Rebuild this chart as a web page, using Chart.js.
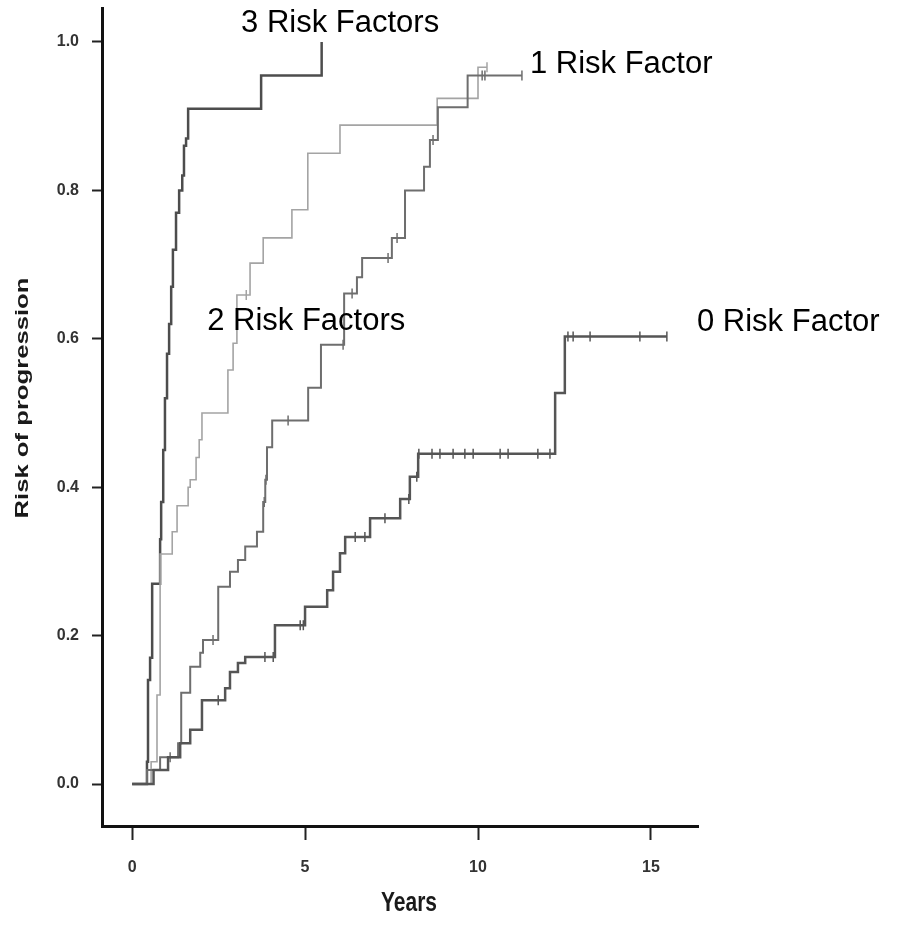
<!DOCTYPE html>
<html>
<head>
<meta charset="utf-8">
<script src="https://cdn.jsdelivr.net/npm/chart.js@4.4.1/dist/chart.umd.min.js"></script>
<style>
  html, body { margin: 0; padding: 0; background: #fff; }
  #chart { display: block; }
</style>
</head>
<body>
<canvas id="chart" width="897" height="933"></canvas>
<script>
// cumulative risk of progression (Kaplan-Meier steps) by number of risk factors
const groupNames = ['0 Risk Factor', '1 Risk Factor', '2 Risk Factors', '3 Risk Factors'];

const years0 = [0, 0.62, 1.04, 1.39, 1.68, 2.02, 2.69, 2.83, 3.06, 3.27, 4.13, 5.00, 5.64, 5.81, 6.01, 6.16, 6.88, 7.75, 8.03, 8.27, 12.23, 12.51, 15.46];
const risk0  = [0, 0.019, 0.036, 0.055, 0.073, 0.113, 0.129, 0.151, 0.163, 0.171, 0.214, 0.239, 0.261, 0.286, 0.311, 0.333, 0.358, 0.384, 0.414, 0.445, 0.527, 0.603, 0.603];
const censor0 = [2.49, 3.84, 4.08, 4.86, 4.95, 6.45, 6.73, 7.31, 8.0, 8.23, 8.29, 8.67, 8.90, 9.28, 9.62, 9.86, 10.64, 10.87, 11.73, 12.08, 12.6, 12.75, 13.24, 14.68, 15.46];

const years1 = [0, 0.43, 0.81, 1.33, 1.42, 1.68, 1.97, 2.05, 2.49, 2.83, 3.06, 3.27, 3.61, 3.79, 3.85, 3.90, 4.05, 5.09, 5.46, 6.13, 6.50, 6.65, 7.51, 7.89, 8.44, 8.61, 8.84, 9.70, 11.27];
const risk1  = [0, 0.019, 0.036, 0.055, 0.123, 0.158, 0.177, 0.194, 0.266, 0.286, 0.302, 0.32, 0.34, 0.38, 0.41, 0.454, 0.49, 0.534, 0.592, 0.661, 0.683, 0.709, 0.736, 0.80, 0.832, 0.868, 0.912, 0.955, 0.955];
const censor1 = [1.10, 2.34, 3.82, 3.87, 4.51, 6.10, 6.36, 7.40, 7.66, 8.70, 10.12, 10.20, 11.27];

const years2 = [0, 0.55, 0.72, 0.81, 1.16, 1.30, 1.62, 1.68, 1.85, 1.94, 2.02, 2.77, 2.92, 3.03, 3.41, 3.79, 4.62, 5.08, 6.01, 8.82, 10.0, 10.26];
const risk2  = [0, 0.03, 0.12, 0.31, 0.34, 0.375, 0.40, 0.41, 0.44, 0.464, 0.50, 0.558, 0.594, 0.659, 0.702, 0.736, 0.774, 0.85, 0.888, 0.924, 0.966, 0.966];
const censor2 = [3.30, 10.26];

const years3 = [0, 0.43, 0.46, 0.52, 0.58, 0.81, 0.84, 0.90, 0.95, 1.01, 1.07, 1.13, 1.18, 1.27, 1.36, 1.45, 1.50, 1.56, 1.62, 3.73, 5.48];
const risk3  = [0, 0.03, 0.14, 0.17, 0.27, 0.33, 0.38, 0.45, 0.52, 0.58, 0.62, 0.67, 0.72, 0.77, 0.80, 0.82, 0.86, 0.87, 0.91, 0.955, 1.0];
const censor3 = [];

const xTicks = [0, 5, 10, 15];
const yTicks = [0, 0.2, 0.4, 0.6, 0.8, 1.0];

// value of a step curve at time t
function levelAt(times, risks, t) {
  var v = 0;
  for (var i = 0; i < times.length; i++) {
    if (times[i] <= t) v = risks[i];
  }
  return v;
}

function stepSet(times, risks, color, width) {
  return {
    type: 'line',
    data: times.map(function (t, i) { return {x: t, y: risks[i]}; }),
    stepped: true,
    borderColor: color,
    borderWidth: width,
    pointRadius: 0,
    fill: false
  };
}

function censorSet(times, risks, censors, color) {
  return {
    type: 'scatter',
    data: censors.map(function (t) { return {x: t, y: levelAt(times, risks, t)}; }),
    pointStyle: 'line',
    rotation: 90,
    radius: 5,
    borderColor: color,
    borderWidth: 1.5,
    showLine: false
  };
}

const colors = ['#555555', '#6e6e6e', '#a4a4a4', '#4d4d4d'];
const widths = [2.5, 2, 1.6, 2.5];

const sansFamily = '"Liberation Sans", Arial, sans-serif';

// curve labels (left/baseline in data units) and axis titles
const textPlugin = {
  id: 'textPlugin',
  afterDraw: function (chart) {
    var ctx = chart.ctx;
    var x = chart.scales.x, y = chart.scales.y;
    var spots = [[16.33, 0.6105], [11.5, 0.958], [2.17, 0.612], [3.15, 1.0135]];
    ctx.save();
    ctx.fillStyle = '#000';
    ctx.font = '31px ' + sansFamily;
    ctx.textAlign = 'left';
    ctx.textBaseline = 'alphabetic';
    groupNames.forEach(function (name, i) {
      ctx.fillText(name, x.getPixelForValue(spots[i][0]), y.getPixelForValue(spots[i][1]));
    });

    ctx.fillStyle = '#1a1a1a';
    ctx.textAlign = 'center';
    ctx.textBaseline = 'middle';

    ctx.save();
    ctx.translate(409, 903);
    ctx.scale(1, 1.35);
    ctx.font = 'bold 21px ' + sansFamily;
    ctx.fillText('Years', 0, 0);
    ctx.restore();

    ctx.save();
    ctx.translate(23, 398);
    ctx.rotate(-Math.PI / 2);
    ctx.scale(1.35, 1);
    ctx.font = 'bold 19px ' + sansFamily;
    ctx.fillText('Risk of progression', 0, 0);
    ctx.restore();

    ctx.restore();
  }
};

const datasets = [];
const allTimes = [years0, years1, years2, years3];
const allRisks = [risk0, risk1, risk2, risk3];
const allCensors = [censor0, censor1, censor2, censor3];
for (var g = 0; g < 4; g++) {
  datasets.push(stepSet(allTimes[g], allRisks[g], colors[g], widths[g]));
  datasets.push(censorSet(allTimes[g], allRisks[g], allCensors[g], colors[g]));
}

const tickFont = {family: sansFamily, size: 16, weight: 'bold'};

new Chart('chart', {
  type: 'line',
  data: {datasets: datasets},
  options: {
    responsive: false,
    animation: false,
    devicePixelRatio: 1,
    layout: {padding: {left: 0, top: 8, right: 199, bottom: 0}},
    plugins: {
      legend: {display: false},
      tooltip: {enabled: false}
    },
    scales: {
      x: {
        type: 'linear',
        min: -0.87,
        max: 16.36,
        afterBuildTicks: function (s) { s.ticks = xTicks.map(function (v) { return {value: v}; }); },
        afterFit: function (s) { s.height = 107; s.paddingLeft = 0; s.paddingRight = 0; },
        ticks: {font: tickFont, color: '#333', padding: 18, maxRotation: 0},
        grid: {drawOnChartArea: false, tickLength: 14, tickWidth: 2, tickColor: '#222'},
        border: {width: 3, color: '#111'}
      },
      y: {
        type: 'linear',
        min: -0.0566,
        max: 1.0458,
        afterBuildTicks: function (s) { s.ticks = yTicks.map(function (v) { return {value: v}; }); },
        afterFit: function (s) { s.width = 102; s.paddingTop = 0; s.paddingBottom = 0; },
        ticks: {
          font: tickFont, color: '#333', padding: 13,
          callback: function (v) { return v.toFixed(1); }
        },
        grid: {drawOnChartArea: false, tickLength: 10, tickWidth: 2, tickColor: '#222'},
        border: {width: 3, color: '#111'}
      }
    }
  },
  plugins: [textPlugin]
});
</script>
</body>
</html>
